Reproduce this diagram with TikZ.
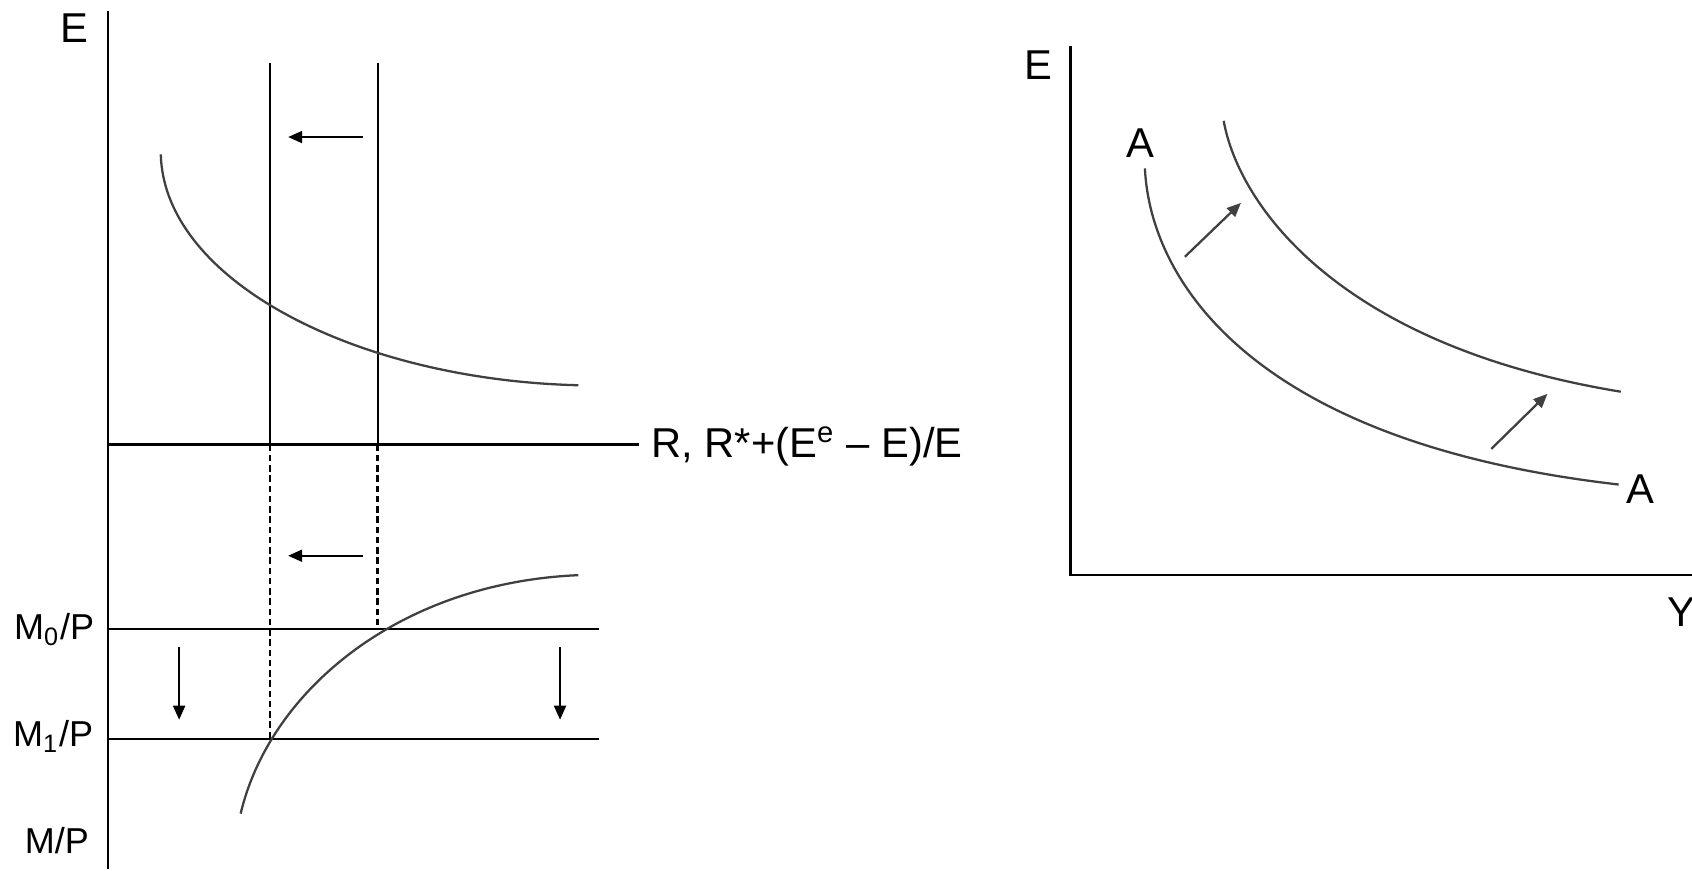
\documentclass[tikz,border=0pt]{standalone}
\usepackage{fontspec}
\setmainfont{Liberation Sans}
\usetikzlibrary{arrows.meta}

\begin{document}
\begin{tikzpicture}[
  x=0.1mm, y=-0.1mm,
  font=\fontsize{11}{13}\selectfont,
  axis/.style={line width=0.6pt},
  curve/.style={line width=0.6pt, black!75},
  guide/.style={line width=0.55pt, dash pattern=on 0.6mm off 0.35mm},
  move/.style={line width=0.6pt, -{Triangle[length=1.3mm, width=1.1mm]}},
  lab/.style={inner sep=0pt},
  mlab/.style={inner sep=0pt, anchor=base east, font=\fontsize{9.5}{11}\selectfont}
]
\useasboundingbox (0,0) rectangle (1568,807);

% left panel: axes and levels
\coordinate (lt) at (100,10);
\coordinate (lb) at (100,805);
\coordinate (o) at (100,412);
\coordinate (rend) at (592,412);
\coordinate (m0) at (100,583);
\coordinate (m0end) at (555,583);
\coordinate (m1) at (100,685);
\coordinate (m1end) at (555,685);
\coordinate (v1top) at (250,58);
\coordinate (v1) at (250,412);
\coordinate (v2top) at (350,58);
\coordinate (v2) at (350,412);
\coordinate (p1) at (250,685);
\coordinate (p0) at (350,583);

\draw[axis] (lt) -- (lb);
\draw[axis] (o) -- (rend);
\draw[axis] (m0) -- (m0end);
\draw[axis] (m1) -- (m1end);
\draw[axis] (v1top) -- (v1);
\draw[axis] (v2top) -- (v2);
\draw[guide] (v1) -- (p1);
\draw[guide, line width=0.9pt] (v2) -- (p0);

\draw[curve] (149,143) .. controls (152,260) and (330,352) .. (536,357);
\draw[curve] (223,754) .. controls (250,640) and (370,540) .. (536,533);

\node[lab] (elab) at (69,26) {E};
\node[lab, anchor=west] (rlab) at (603,414) {R, R*+(E\textsuperscript{e} -- E)/E};
\node[mlab] (m0lab) at (88,593) {M\textsubscript{0}/P};
\node[mlab] (m1lab) at (87,692) {M\textsubscript{1}/P};
\node[mlab] (mplab) at (83,791) {M/P};

\coordinate (a1s) at (336,127);
\coordinate (a1e) at (267,127);
\coordinate (a2s) at (336,515);
\coordinate (a2e) at (267,515);
\coordinate (a3s) at (166,600);
\coordinate (a3e) at (166,667);
\coordinate (a4s) at (519,600);
\coordinate (a4e) at (519,667);
\draw[move] (a1s) -- (a1e);
\draw[move] (a2s) -- (a2e);
\draw[move] (a3s) -- (a3e);
\draw[move] (a4s) -- (a4e);

% right panel
\coordinate (rt) at (992,43);
\coordinate (ro) at (992,533);
\coordinate (rr) at (1568,533);
\draw[axis] (rt) -- (ro) -- (rr);

\draw[curve] (1061,156) .. controls (1066,260) and (1160,410) .. (1500,449);
\draw[curve] (1134,112) .. controls (1148,190) and (1240,320) .. (1502,363);

\node[lab] (elab2) at (962,60) {E};
\node[lab] (alab1) at (1057,133) {A};
\node[lab] (alab2) at (1520,453) {A};
\node[lab] (ylab) at (1558,567) {Y};

\coordinate (b1s) at (1098,238);
\coordinate (b1e) at (1150,188);
\coordinate (b2s) at (1382,416);
\coordinate (b2e) at (1434,365);
\draw[move, black!75] (b1s) -- (b1e);
\draw[move, black!75] (b2s) -- (b2e);
\end{tikzpicture}
\end{document}
